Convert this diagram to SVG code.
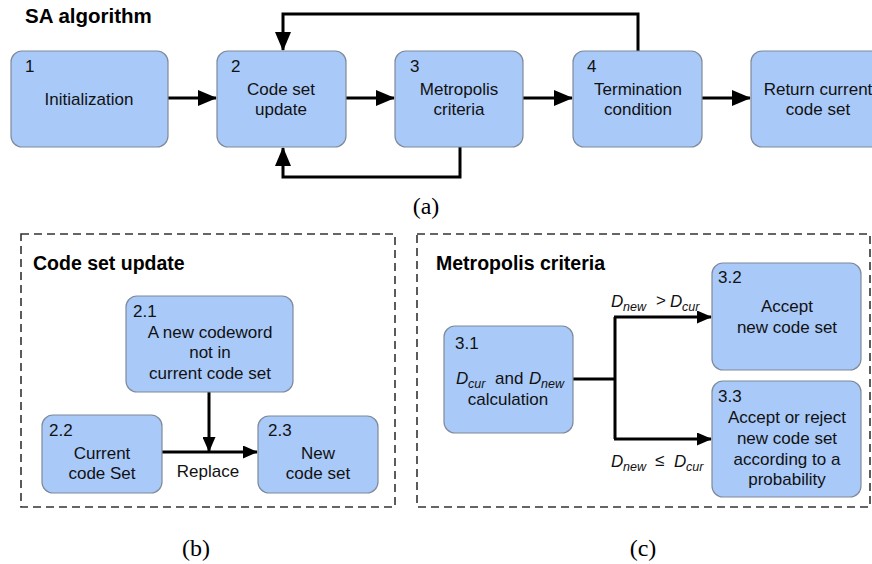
<svg xmlns="http://www.w3.org/2000/svg" width="872" height="564" viewBox="0 0 872 564">
<style>
.box{fill:#a9c9f9;stroke:#7f8a9a;stroke-width:1.2}
.t{font-family:"Liberation Sans",Arial,sans-serif;font-size:17px;fill:#111}
.c{text-anchor:middle}
.h{font-family:"Liberation Sans",Arial,sans-serif;font-weight:bold;fill:#000}
.it{font-family:"Liberation Sans",Arial,sans-serif;font-style:italic;font-size:17px;fill:#111}
.sub{font-size:12.5px}
.cap{font-family:"Liberation Serif","Times New Roman",serif;font-size:24px;fill:#000;text-anchor:middle}
.ln{fill:none;stroke:#000;stroke-width:3}
.dash{fill:none;stroke:#333;stroke-width:1.6;stroke-dasharray:8,5}
</style>
<defs>
<marker id="ab" markerUnits="userSpaceOnUse" markerWidth="19" markerHeight="16" refX="18" refY="8" orient="auto">
<path d="M0,0 L19,8 L0,16 z" fill="#000"/>
</marker>
<marker id="as" markerUnits="userSpaceOnUse" markerWidth="15" markerHeight="13" refX="14" refY="6.5" orient="auto">
<path d="M0,0 L15,6.5 L0,13 z" fill="#000"/>
</marker>
</defs>

<text class="h" x="25" y="23" font-size="20.5">SA algorithm</text>

<g id="connectors">
<path class="ln" d="M168,98 H216" marker-end="url(#ab)"/>
<path class="ln" d="M346,98 H394" marker-end="url(#ab)"/>
<path class="ln" d="M523,98 H572" marker-end="url(#ab)"/>
<path class="ln" d="M702,98 H750" marker-end="url(#ab)"/>
<path class="ln" d="M638,51 V14 H283 V50" marker-end="url(#ab)"/>
<path class="ln" d="M460,147 V177 H283 V148" marker-end="url(#ab)"/>
<path class="ln" d="M209,392 V451" marker-end="url(#as)"/>
<path class="ln" d="M162,452 H257" marker-end="url(#as)"/>
<path class="ln" d="M573,379 H615 M615,317 V439"/>
<path class="ln" d="M614,317 H711" marker-end="url(#as)"/>
<path class="ln" d="M614,439 H711" marker-end="url(#as)"/>
</g>

<g id="n1">
<rect class="box" x="11" y="51" width="157" height="96" rx="11"/>
<text class="t" x="25" y="72">1</text>
<text class="t c" x="89" y="105">Initialization</text>
</g>
<g id="n2">
<rect class="box" x="217" y="51" width="129" height="96" rx="11"/>
<text class="t" x="231" y="72">2</text>
<text class="t c" x="281" y="95">Code set</text>
<text class="t c" x="281" y="115">update</text>
</g>
<g id="n3">
<rect class="box" x="395" y="51" width="128" height="96" rx="11"/>
<text class="t" x="410" y="72">3</text>
<text class="t c" x="459" y="95">Metropolis</text>
<text class="t c" x="459" y="115">criteria</text>
</g>
<g id="n4">
<rect class="box" x="573" y="51" width="129" height="96" rx="11"/>
<text class="t" x="587" y="72">4</text>
<text class="t c" x="638" y="95">Termination</text>
<text class="t c" x="638" y="115">condition</text>
</g>
<g id="n5">
<rect class="box" x="751" y="51" width="133" height="96" rx="11"/>
<text class="t c" x="818" y="95">Return current</text>
<text class="t c" x="818" y="115">code set</text>
</g>

<text class="cap" x="426" y="214">(a)</text>

<g id="panel-b">
<rect class="dash" x="21" y="234" width="374" height="273"/>
<text class="h" x="33" y="270" font-size="19.5">Code set update</text>
</g>
<g id="n21">
<rect class="box" x="126" y="296" width="167" height="96" rx="11"/>
<text class="t" x="133" y="317">2.1</text>
<text class="t c" x="210" y="338">A new codeword</text>
<text class="t c" x="210" y="358">not in</text>
<text class="t c" x="210" y="379">current code set</text>
</g>
<g id="n22">
<rect class="box" x="42" y="415" width="120" height="78" rx="11"/>
<text class="t" x="49" y="436">2.2</text>
<text class="t c" x="102" y="459">Current</text>
<text class="t c" x="102" y="479">code Set</text>
</g>
<g id="n23">
<rect class="box" x="258" y="416" width="120" height="77" rx="11"/>
<text class="t" x="268" y="436">2.3</text>
<text class="t c" x="318" y="459">New</text>
<text class="t c" x="318" y="479">code set</text>
</g>
<text class="t c" x="208" y="477">Replace</text>

<g id="panel-c">
<rect class="dash" x="417" y="234" width="453" height="273"/>
<text class="h" x="436" y="270" font-size="19.5">Metropolis criteria</text>
</g>
<g id="n31">
<rect class="box" x="444" y="326" width="129" height="107" rx="11"/>
<text class="t" x="455" y="349">3.1</text>
<text class="it" x="456" y="384">D</text><text class="it sub" x="468" y="388">cur</text>
<text class="t" x="495" y="384">and</text>
<text class="it" x="529" y="384">D</text><text class="it sub" x="541" y="388">new</text>
<text class="t c" x="508" y="405">calculation</text>
</g>
<g id="n32">
<rect class="box" x="712" y="263" width="149" height="107" rx="11"/>
<text class="t" x="718" y="283">3.2</text>
<text class="t c" x="787" y="312">Accept</text>
<text class="t c" x="787" y="333">new code set</text>
</g>
<g id="n33">
<rect class="box" x="712" y="381" width="149" height="116" rx="11"/>
<text class="t" x="718" y="402">3.3</text>
<text class="t c" x="787" y="423">Accept or reject</text>
<text class="t c" x="787" y="444">new code set</text>
<text class="t c" x="787" y="465">according to a</text>
<text class="t c" x="787" y="485">probability</text>
</g>
<g id="labels">
<text class="it" x="611" y="307">D</text><text class="it sub" x="623" y="311">new</text>
<text class="t" x="656" y="306">&gt;</text>
<text class="it" x="670" y="307">D</text><text class="it sub" x="682" y="311">cur</text>
<text class="it" x="611" y="467">D</text><text class="it sub" x="623" y="471">new</text>
<text class="t" x="655" y="466">≤</text>
<text class="it" x="674" y="467">D</text><text class="it sub" x="686" y="471">cur</text>
</g>

<text class="cap" x="196" y="556">(b)</text>
<text class="cap" x="643" y="556">(c)</text>
</svg>
